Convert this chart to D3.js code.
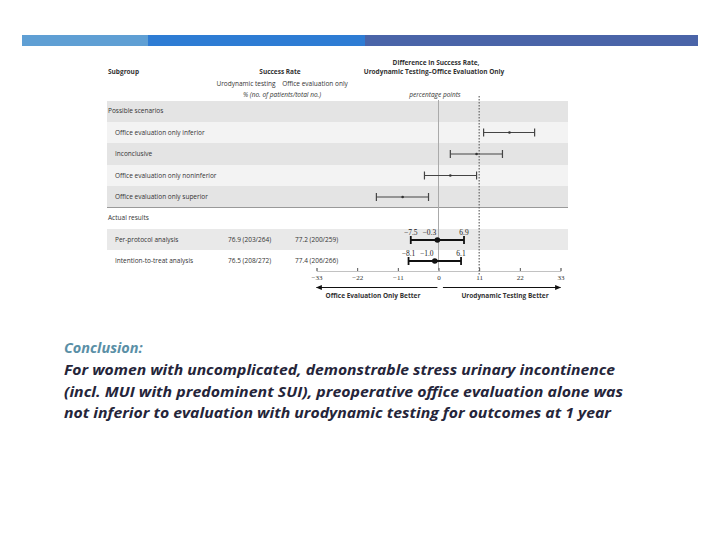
<!DOCTYPE html>
<html><head><meta charset="utf-8">
<script src="https://cdn.jsdelivr.net/npm/d3@7/dist/d3.min.js"></script>
<style>body{margin:0;background:#fff}svg{display:block}</style>
</head><body>
<script>
// ---- data ----
const scenarioLabels = ["Office evaluation only inferior","Inconclusive","Office evaluation only noninferior","Office evaluation only superior"];
const scenarioLow  = [12.2, 3.2, -3.8, -16.8];
const scenarioMid  = [19.2, 10.3, 3.2, -9.7];
const scenarioHigh = [26.0, 17.3, 10.3, -2.7];
const actualLabels = ["Per-protocol analysis","Intention-to-treat analysis"];
const actualUro    = ["76.9 (203/264)","76.5 (208/272)"];
const actualOffice = ["77.2 (200/259)","77.4 (206/266)"];
const actualLow  = [-7.5, -8.1];
const actualMid  = [-0.3, -1.0];
const actualHigh = [6.9, 6.1];
const tickValues = [-33,-22,-11,0,11,22,33];
const margin = 11;
const conclusionLines = [
 "For women with uncomplicated, demonstrable stress urinary incontinence",
 "(incl. MUI with predominent SUI), preoperative office evaluation alone was",
 "not inferior to evaluation with urodynamic testing for outcomes at 1 year"];

const W=720,H=540;
const svg=d3.select("body").append("svg").attr("width",W).attr("height",H);
const font="'Open Sans', 'DejaVu Sans', sans-serif";
const serif="'Liberation Serif', 'DejaVu Serif', serif";
const txt="#333";

// top bar
[[22,148,"#5f9fd4"],[148,365,"#2e7cd4"],[365,698,"#4a64a8"]].forEach(s=>{
  svg.append("rect").attr("x",s[0]).attr("y",35).attr("width",s[1]-s[0]).attr("height",11).attr("fill",s[2]);
});

const x=d3.scaleLinear().domain([-33,33]).range([316.5,560.5]);
const bandL=107,bandR=568;

// row bands
const bands=[[101,122,"#e4e4e4"],[122,143,"#f3f3f3"],[143,165,"#e4e4e4"],[165,186,"#f3f3f3"],[186,207,"#e4e4e4"],[229,250,"#e9e9e9"]];
bands.forEach(b=>svg.append("rect").attr("x",bandL).attr("y",b[0]).attr("width",bandR-bandL).attr("height",b[1]-b[0]).attr("fill",b[2]));
svg.append("line").attr("x1",bandL).attr("x2",bandR).attr("y1",207.5).attr("y2",207.5).attr("stroke","#999").attr("stroke-width",1);

// zero and margin lines
svg.append("line").attr("x1",x(0)).attr("x2",x(0)).attr("y1",100).attr("y2",270).attr("stroke","#aaa").attr("stroke-width",1);
svg.append("line").attr("x1",x(margin)).attr("x2",x(margin)).attr("y1",96).attr("y2",276).attr("stroke","#666").attr("stroke-width",1.2).attr("stroke-dasharray","1.5,1.5");

function t(s,xx,yy,o={}){
  return svg.append("text").attr("x",xx).attr("y",yy).text(s)
   .attr("font-family",o.family||font).attr("font-size",o.size||6.5).attr("fill",o.fill||txt)
   .attr("font-weight",o.bold?700:400).attr("font-style",o.italic?"italic":"normal")
   .attr("text-anchor",o.anchor||"start");
}
// headers
t("Subgroup",108,74,{bold:true});
t("Success Rate",280,74,{bold:true,anchor:"middle"});
t("Urodynamic testing",246,86,{anchor:"middle"});
t("Office evaluation only",315,86,{anchor:"middle"});
t("% (no. of patients/total no.)",282,97,{italic:true,anchor:"middle"});
t("Difference in Success Rate,",436,65,{bold:true,anchor:"middle"});
t("Urodynamic Testing\u2013Office Evaluation Only",434,74,{bold:true,anchor:"middle"});
t("percentage points",435,97,{italic:true,anchor:"middle"});
t("Possible scenarios",108,113);
t("Actual results",108,220);

// scenarios
const yS=[132.5,154,175.5,197];
scenarioLabels.forEach((l,i)=>{
  t(l,115,yS[i]+2.3);
  const g=svg.append("g").attr("stroke","#444").attr("stroke-width",1.2);
  g.append("line").attr("x1",x(scenarioLow[i])).attr("x2",x(scenarioHigh[i])).attr("y1",yS[i]).attr("y2",yS[i]);
  [scenarioLow[i],scenarioHigh[i]].forEach(v=>g.append("line").attr("x1",x(v)).attr("x2",x(v)).attr("y1",yS[i]-4).attr("y2",yS[i]+4));
  svg.append("circle").attr("cx",x(scenarioMid[i])).attr("cy",yS[i]).attr("r",1.3).attr("fill","#333");
});

// actual results
const yA=[240,261];
const fmt=v=>(v<0?"\u2212":"")+Math.abs(v).toFixed(1);
actualLabels.forEach((l,i)=>{
  t(l,115,yA[i]+2.3);
  t(actualUro[i],228,yA[i]+2.3);
  t(actualOffice[i],295,yA[i]+2.3);
  const g=svg.append("g").attr("stroke","#111").attr("stroke-width",1.8);
  g.append("line").attr("x1",x(actualLow[i])).attr("x2",x(actualHigh[i])).attr("y1",yA[i]).attr("y2",yA[i]);
  [actualLow[i],actualHigh[i]].forEach(v=>g.append("line").attr("x1",x(v)).attr("x2",x(v)).attr("y1",yA[i]-4).attr("y2",yA[i]+4));
  svg.append("circle").attr("cx",x(actualMid[i])).attr("cy",yA[i]).attr("r",2.8).attr("fill","#111");
  const o={anchor:"middle",size:7.5,family:serif,fill:"#222"};
  t(fmt(actualLow[i]),x(actualLow[i]),yA[i]-5.5,o);
  t(fmt(actualMid[i]),x(actualMid[i])-8,yA[i]-5.5,o);
  t(fmt(actualHigh[i]),x(actualHigh[i]),yA[i]-5.5,o);
});

// axis
const ax=svg.append("g").attr("transform","translate(0,271)")
  .call(d3.axisBottom(x).tickValues(tickValues).tickSize(-3).tickPadding(4).tickFormat(d=>d<0?"\u2212"+Math.abs(d):d));
ax.select(".domain").attr("stroke","#999").attr("stroke-width",0.6);
ax.selectAll(".tick line").attr("stroke","#555");
ax.selectAll("text").attr("font-family",serif).attr("font-size",7).attr("fill",txt);

// arrows
const defs=svg.append("defs");
defs.append("marker").attr("id","ah").attr("viewBox","0 0 10 10").attr("refX",9).attr("refY",5)
 .attr("markerWidth",6).attr("markerHeight",5).attr("orient","auto-start-reverse")
 .append("path").attr("d","M0,1L10,5L0,9Z").attr("fill","#111");
svg.append("line").attr("x1",x(-0.3)).attr("x2",x(-33)).attr("y1",287.5).attr("y2",287.5).attr("stroke","#111").attr("stroke-width",1.2).attr("marker-end","url(#ah)");
svg.append("line").attr("x1",x(1.2)).attr("x2",x(33)).attr("y1",287.5).attr("y2",287.5).attr("stroke","#111").attr("stroke-width",1.2).attr("marker-end","url(#ah)");
t("Office Evaluation Only Better",373,298,{bold:true,anchor:"middle",size:6.5});
t("Urodynamic Testing Better",505,298,{bold:true,anchor:"middle",size:6.5});

// conclusion
const cf="'Open Sans', 'Noto Sans', sans-serif";
svg.append("text").attr("x",64).attr("y",353).text("Conclusion:").attr("font-family",cf)
 .attr("font-size",14.5).attr("font-weight",700).attr("font-style","italic").attr("fill","#5a8fa6");
const widths=[551,559,547];
conclusionLines.forEach((l,i)=>{
  svg.append("text").attr("x",64).attr("y",375+i*21.7).text(l).attr("font-family",cf)
   .attr("font-size",14.5).attr("font-weight",700).attr("font-style","italic").attr("fill","#25253a")
   .attr("textLength",widths[i]).attr("lengthAdjust","spacingAndGlyphs");
});
</script>
</body></html>
